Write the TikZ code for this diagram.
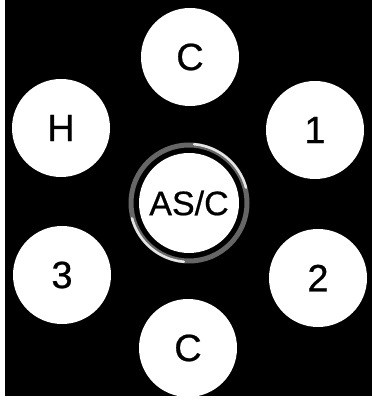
\documentclass[tikz,border=0pt]{standalone}
\usepackage{fontspec}
\setmainfont[FakeBold=0.6]{Liberation Sans}
\usepackage{tikz}
\usetikzlibrary{positioning}

\begin{document}
\begin{tikzpicture}[
    x=1pt,y=1pt,
    disc/.style={circle,fill=white,minimum size=98pt,inner sep=0pt,
      font=\fontsize{38}{44}\selectfont},
    hub/.style={disc,minimum size=100pt,font=\fontsize{34}{40}\selectfont},
    glow/.style={line width=5pt,draw=black!60},
    shine/.style={line width=2.5pt,draw=white!90!black,line cap=round}
  ]
    % frame
    \fill[white] (0,0) rectangle (372,399);
    \fill[black] (5,3) rectangle (372,399);

    % centre disc with ring
    \node[hub] (asc) at (189,196) {AS/C};
    \draw[glow] (asc.center) circle (58);
    \draw[shine] (asc.center) ++(195:59) arc (195:265:59);
    \draw[shine] (asc.center) ++(15:59) arc (15:85:59);

    % outer discs
    \node[disc] (ctop) at (190,342) {C};
    \node[disc] (one) at (315,269) {1};
    \node[disc] (two) at (318,121) {2};
    \node[disc] (cbot) at (188,51) {C};
    \node[disc] (three) at (62,124) {3};
    \node[disc] (h) at (61,271) {H};
\end{tikzpicture}
\end{document}
